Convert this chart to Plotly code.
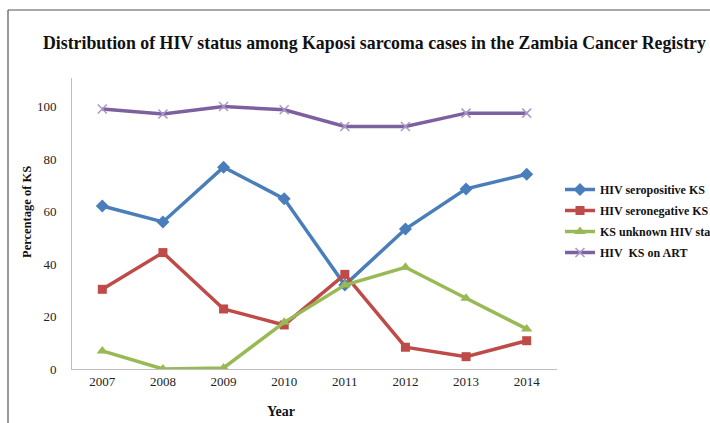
import plotly.graph_objects as go

years = ["2007", "2008", "2009", "2010", "2011", "2012", "2013", "2014"]
seropositive = [62.2, 56.1, 77.0, 64.9, 32.0, 53.4, 68.7, 74.3]
seronegative = [30.4, 44.4, 22.9, 16.8, 36.1, 8.3, 4.7, 10.8]
unknown = [6.9, 0.0, 0.4, 17.8, 32.0, 38.8, 27.0, 15.3]
on_art = [99.2, 97.3, 100.1, 98.9, 92.5, 92.5, 97.6, 97.6]
series_names = ["HIV seropositive KS", "HIV seronegative KS",
                "KS unknown HIV status", "HIV  KS on ART"]
y_ticks = [0, 20, 40, 60, 80, 100]

W, H = 710, 423
L, R, T, B = 72, 153, 78, 54
pw, ph = W - L - R, H - T - B

def px_x(p):
    return (p - L) / pw

def px_y(p):
    return (H - B - p) / ph

fig = go.Figure()
styles = [
    (seropositive, "#4A7EBB", "diamond", 10, None),
    (seronegative, "#BE4B48", "square", 9, None),
    (unknown, "#98B954", "triangle-up", 10, None),
    (on_art, "#7D60A0", "x-thin", 9, "#A898C8"),
]
for i, (vals, col, sym, sz, lc) in enumerate(styles):
    marker = dict(symbol=sym, size=sz, color=col)
    if lc:
        marker["line"] = dict(color=lc, width=1.5)
    fig.add_trace(go.Scatter(
        x=years, y=vals, mode="lines+markers", name=series_names[i],
        line=dict(color=col, width=3.5), marker=marker,
        legendgroup="g%d" % i, hoverinfo="skip"))

fig.update_layout(
    width=W, height=H,
    margin=dict(l=L, r=R, t=T, b=B, autoexpand=False),
    paper_bgcolor="white", plot_bgcolor="white",
    showlegend=True,
    font=dict(family="Liberation Serif", color="#222222"),
    legend=dict(x=px_x(560), y=px_y(175), xanchor="left", yanchor="top",
                font=dict(family="Liberation Serif", size=12, color="#111111",
                          weight="bold"),
                tracegroupgap=2, bgcolor="rgba(0,0,0,0)"),
    xaxis=dict(type="category", showgrid=False, showline=True,
               linecolor="#BFBFBF", linewidth=1, ticks="",
               tickfont=dict(family="Liberation Serif", size=13, color="#222222"),
               range=[-0.5, 7.5], zeroline=False),
    yaxis=dict(range=[0, 111], tickvals=y_ticks, showgrid=False, showline=True,
               linecolor="#BFBFBF", linewidth=1, ticks="", zeroline=False,
               ticklabelstandoff=12,
               tickfont=dict(family="Liberation Serif", size=13, color="#222222")),
    annotations=[
        dict(text="<b>Distribution of HIV status among Kaposi sarcoma cases in the Zambia Cancer Registry</b>",
             xref="paper", yref="paper", x=px_x(374), y=px_y(43),
             xanchor="center", yanchor="middle", showarrow=False,
             font=dict(family="Liberation Serif", size=17.8, color="#111111")),
        dict(text="<b>Percentage of KS</b>", textangle=-90,
             xref="paper", yref="paper", x=px_x(27), y=px_y(212),
             xanchor="center", yanchor="middle", showarrow=False,
             font=dict(family="Liberation Serif", size=12.5, color="#111111")),
        dict(text="<b>Year</b>",
             xref="paper", yref="paper", x=px_x(281), y=px_y(411),
             xanchor="center", yanchor="middle", showarrow=False,
             font=dict(family="Liberation Serif", size=14, color="#111111")),
    ],
    shapes=[
        dict(type="line", xref="paper", yref="paper",
             x0=px_x(8), x1=px_x(W + 5), y0=px_y(10), y1=px_y(10),
             line=dict(color="#555555", width=1.2)),
        dict(type="line", xref="paper", yref="paper",
             x0=px_x(8), x1=px_x(8), y0=px_y(10), y1=px_y(H + 5),
             line=dict(color="#555555", width=1.2)),
    ],
)

fig.write_html("out.html", config={"displayModeBar": False},
               post_script="document.body.style.margin='0';document.body.style.overflow='hidden';")
